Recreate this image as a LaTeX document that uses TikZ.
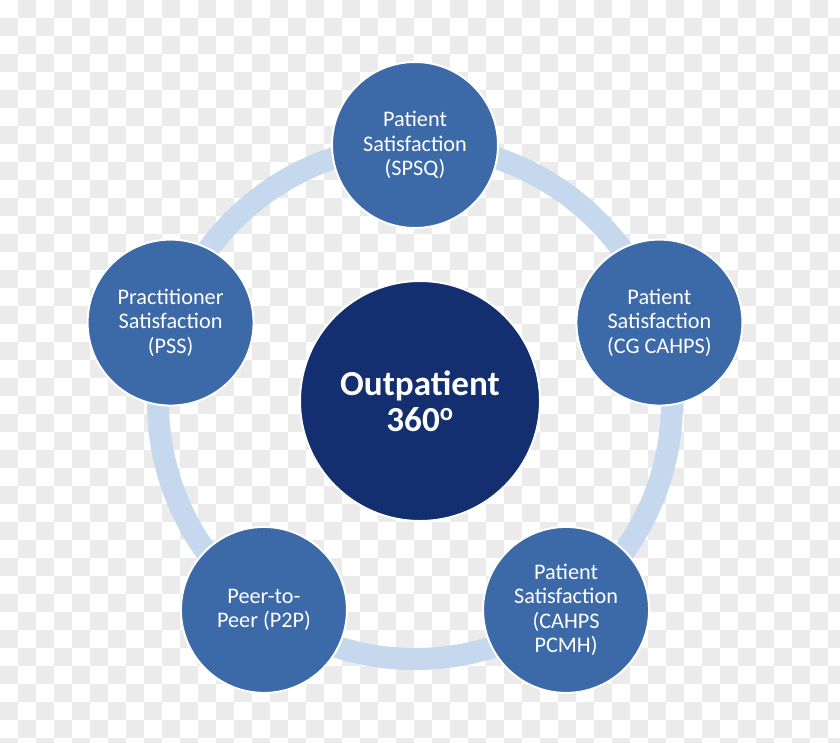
\documentclass[tikz,border=0pt]{standalone}
\usepackage{fontspec}
\setmainfont{Carlito}
\usetikzlibrary{positioning,calc}
\definecolor{SteelBlue}{HTML}{3C69A8}
\definecolor{DeepNavy}{HTML}{142F6F}
\definecolor{RingBlue}{HTML}{C5D8EE}
\definecolor{CheckGray}{HTML}{EBEBEB}

\begin{document}
\begin{tikzpicture}[
  x=0.03cm, y=0.03cm,
  measure/.style = {circle, fill=SteelBlue, draw=white, line width=0.06cm,
                    minimum size=4.98cm, inner sep=0pt, align=center,
                    text=white, font=\fontsize{19}{21}\selectfont},
  core/.style    = {circle, fill=DeepNavy, draw=white, line width=0.06cm,
                    minimum size=7.2cm, inner sep=0pt, align=center,
                    text=white, font=\bfseries\fontsize{30}{31}\selectfont},
  ring/.style    = {draw=RingBlue, line width=0.66cm},
  checker/.style = {fill=CheckGray}
]
  \useasboundingbox (0,0) rectangle (840,742);

  % transparency grid behind everything
  \begin{scope}
    \clip (0,0) rectangle (840,742);
    \foreach \i in {0,...,46} {
      \foreach \j in {0,...,41} {
        \pgfmathtruncatemacro\odd{mod(\i+\j,2)}
        \ifnum\odd=1
          \fill[checker] (\i*18,742-\j*18) rectangle ++(18,-18);
        \fi
      }
    }
  \end{scope}

  \coordinate (mid) at (415,340);
  \draw[ring] (mid) circle (257);

  \node[core] (hub) at (420,341) {Outpatient\\360\textsuperscript{o}};

  \node[measure] (spsq)    at ([shift={(90:257)}]mid)   {Patient\\Satisfaction\\(SPSQ)};
  \node[measure] (cgcahps) at ([shift={(18:257)}]mid)   {Patient\\Satisfaction\\(CG CAHPS)};
  \node[measure] (pcmh)    at ([shift={(-54:257)}]mid)  {Patient\\Satisfaction\\(CAHPS\\PCMH)};
  \node[measure] (ptwop)   at ([shift={(-126:257)}]mid) {Peer-to-\\Peer (P2P)};
  \node[measure] (pss)     at ([shift={(162:257)}]mid)  {Practitioner\\Satisfaction\\(PSS)};
\end{tikzpicture}
\end{document}
